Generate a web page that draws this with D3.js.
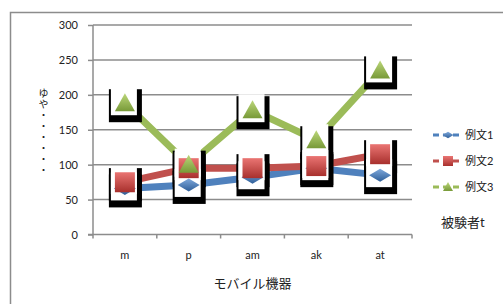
<!DOCTYPE html>
<html>
<head>
<meta charset="utf-8">
<script src="https://cdn.jsdelivr.net/npm/d3@7"></script>
<style>
  body { margin: 0; background: #fff; }
  svg { font-family: "Lato", "Noto Sans CJK JP", sans-serif; }
</style>
</head>
<body>
<svg width="503" height="304"></svg>
<script>
const categories = ['m', 'p', 'am', 'ak', 'at'];
const seriesNames = ['例文1', '例文2', '例文3'];
const values1 = [66, 71, 82, 95, 85];
const values2 = [75, 95, 95, 98, 115];
const values3 = [188, 100, 178, 135, 235];
const yTicks = [0, 50, 100, 150, 200, 250, 300];
const xTitle = 'モバイル機器';
const yTitle = 'ゆや・・・・・・';
const legendTitle = '被験者t';

const colors = ['#4F81BD', '#C0504D', '#9BBB59'];
const shapes = ['diamond', 'square', 'triangle'];
const allSeries = [values1, values2, values3];

const svg = d3.select('svg');
const plotLeft = 93, plotRight = 412, plotTop = 25, plotBottom = 234.5;

const xScale = d3.scaleBand().domain(categories).range([plotLeft, plotRight]);
const yScale = d3.scaleLinear().domain([0, 300]).range([plotBottom, plotTop]);
const cx = (c) => xScale(c) + xScale.bandwidth() / 2;

// gradients for the shaded markers
const defs = svg.append('defs');
const grad = (id, c1, c2) => {
  const g = defs.append('linearGradient').attr('id', id)
    .attr('x1', 0).attr('y1', 0).attr('x2', 0).attr('y2', 1);
  g.append('stop').attr('offset', '0%').attr('stop-color', c1);
  g.append('stop').attr('offset', '100%').attr('stop-color', c2);
};
grad('g0', '#7fa9dc', '#2f5f99');
grad('g1', '#ea7573', '#a8302d');
grad('g2', '#bcd77a', '#789a38');

// chart border
svg.append('rect')
  .attr('x', 10.5).attr('y', 12.5).attr('width', 600).attr('height', 400)
  .attr('fill', 'none').attr('stroke', '#8c8c8c').attr('stroke-width', 1.5);

// gridlines
svg.append('g').selectAll('line').data(yTicks.filter(d => d > 0)).join('line')
  .attr('x1', plotLeft).attr('x2', plotRight)
  .attr('y1', d => yScale(d)).attr('y2', d => yScale(d))
  .attr('stroke', '#8c8c8c').attr('stroke-width', 1.5);

// y axis
const yAxisG = svg.append('g')
  .attr('transform', `translate(${plotLeft},0)`)
  .call(d3.axisLeft(yScale).tickValues(yTicks).tickSize(5).tickPadding(10));
yAxisG.select('.domain').attr('stroke', '#8c8c8c').attr('stroke-width', 1.5)
  .attr('d', `M0,${plotTop}V${plotBottom}`);
yAxisG.selectAll('.tick line').attr('stroke', '#8c8c8c').attr('stroke-width', 1.5);
yAxisG.selectAll('.tick text').attr('font-size', 11).attr('fill', '#222')
  .attr('font-family', 'Lato, sans-serif');

// x axis
const xAxisG = svg.append('g')
  .attr('transform', `translate(0,${plotBottom})`)
  .call(d3.axisBottom(xScale).tickSize(0).tickPadding(17));
xAxisG.select('.domain').attr('stroke', '#8c8c8c').attr('stroke-width', 1.5)
  .attr('d', `M${plotLeft - 5},0H${plotRight}`);
xAxisG.selectAll('.tick text').attr('font-size', 11).attr('fill', '#222')
  .attr('font-family', 'Lato, sans-serif');
xAxisG.append('g').selectAll('line')
  .data(categories.map(c => xScale(c)).concat([plotRight]))
  .join('line')
  .attr('x1', d => d).attr('x2', d => d).attr('y1', 0).attr('y2', 4)
  .attr('stroke', '#8c8c8c').attr('stroke-width', 1.5);

// axis titles
svg.append('text')
  .attr('x', (plotLeft + plotRight) / 2).attr('y', 288)
  .attr('text-anchor', 'middle').attr('font-size', 13).attr('fill', '#222')
  .text(xTitle);

svg.append('text')
  .attr('x', 43).attr('y', 88)
  .style('writing-mode', 'vertical-rl')
  .attr('font-size', 10).attr('fill', '#222')
  .attr('letter-spacing', 1)
  .text(yTitle);

// series lines
const line = d3.line().x((d, i) => cx(categories[i])).y(d => yScale(d));
allSeries.forEach((vals, s) => {
  svg.append('path')
    .attr('d', line(vals))
    .attr('fill', 'none')
    .attr('stroke', colors[s])
    .attr('stroke-width', 7);
});

// shadow boxes behind markers
const points = [];
allSeries.forEach((vals, s) => vals.forEach((v, i) => points.push({ s, x: cx(categories[i]), y: yScale(v) })));
const boxes = svg.append('g');
boxes.selectAll('rect.black').data(points).join('rect')
  .attr('class', 'black')
  .attr('x', d => d.x - 16).attr('y', d => d.y - 14)
  .attr('width', 33).attr('height', 33).attr('fill', '#000');
boxes.selectAll('rect.white').data(points).join('rect')
  .attr('class', 'white')
  .attr('x', d => d.x - 14).attr('y', d => d.y - 16)
  .attr('width', 26).attr('height', 28).attr('fill', '#fff');

// marker shapes
const markerPath = (shape, x, y, k) => {
  if (shape === 'diamond') {
    return `M${x - 11 * k},${y}L${x},${y - 6.5 * k}L${x + 11 * k},${y}L${x},${y + 6.5 * k}Z`;
  }
  if (shape === 'square') {
    return `M${x - 10 * k},${y - 10 * k}h${20 * k}v${20 * k}h${-20 * k}Z`;
  }
  return `M${x},${y - 10 * k}L${x + 10 * k},${y + 8 * k}L${x - 10 * k},${y + 8 * k}Z`;
};

allSeries.forEach((vals, s) => {
  svg.append('g').selectAll('path').data(vals).join('path')
    .attr('d', (d, i) => markerPath(shapes[s], cx(categories[i]), yScale(d), 1))
    .attr('fill', `url(#g${s})`);
});

// legend
const legend = svg.append('g');
const legendY = [135, 161, 187];
seriesNames.forEach((name, s) => {
  const g = legend.append('g').attr('transform', `translate(0,${legendY[s]})`);
  g.append('line')
    .attr('x1', 433).attr('x2', 463).attr('y1', 0).attr('y2', 0)
    .attr('stroke', colors[s]).attr('stroke-width', 3)
    .attr('stroke-dasharray', '6,4');
  g.append('path')
    .attr('d', markerPath(shapes[s], 448, 0, 0.5))
    .attr('fill', `url(#g${s})`);
  g.append('text')
    .attr('x', 465).attr('y', 4)
    .attr('font-size', 11).attr('fill', '#222')
    .text(name);
});
legend.append('text')
  .attr('x', 441).attr('y', 227)
  .attr('font-size', 13).attr('fill', '#222')
  .text(legendTitle);
</script>
</body>
</html>
